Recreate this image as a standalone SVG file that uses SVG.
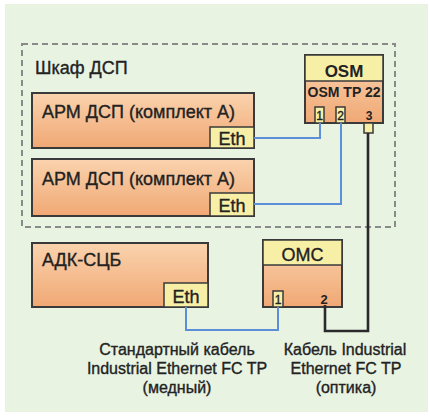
<svg xmlns="http://www.w3.org/2000/svg" width="430" height="420" viewBox="0 0 430 420">
<defs>
<linearGradient id="og" x1="0" y1="0" x2="0" y2="1">
<stop offset="0" stop-color="#fad3ae"/>
<stop offset="1" stop-color="#f0a874"/>
</linearGradient>
<style>
.box{fill:url(#og);stroke:#3a3a3a;stroke-width:2}
.y{fill:#f7efa6;stroke:#3a3a3a;stroke-width:1.5}
.t{font-family:"Liberation Sans",Arial,sans-serif;fill:#222;stroke:#222;stroke-width:0.35}
.b{font-weight:bold;stroke-width:0}
.blue{fill:none;stroke:#5d8fd8;stroke-width:2}
.blk{fill:none;stroke:#2a2a2a;stroke-width:2.6}
</style>
</defs>
<rect x="5" y="4" width="423" height="408" fill="#e8f3e2"/>
<g id="cabinet">
<rect x="22" y="44" width="373" height="183" fill="none" stroke="#8a8a8a" stroke-width="2" stroke-dasharray="6,4"/>
<text class="t" x="35" y="74" font-size="18">Шкаф ДСП</text>
</g>
<g id="arm1">
<rect class="box" x="32" y="93" width="222" height="55"/>
<text class="t" x="42" y="118" font-size="18">АРМ ДСП (комплект А)</text>
<rect class="y" x="210" y="127" width="44" height="21"/>
<text class="t" x="232" y="145" font-size="18" text-anchor="middle">Eth</text>
</g>
<g id="arm2">
<rect class="box" x="32" y="159" width="222" height="57"/>
<text class="t" x="42" y="185" font-size="18">АРМ ДСП (комплект А)</text>
<rect class="y" x="210" y="193" width="44" height="23"/>
<text class="t" x="232" y="212" font-size="18" text-anchor="middle">Eth</text>
</g>
<g id="osm">
<rect class="box" x="305" y="55" width="78" height="68"/>
<rect class="y" x="305" y="55" width="78" height="26" stroke-width="2"/>
<text class="t b" x="344" y="77" font-size="17" text-anchor="middle">OSM</text>
<text class="t b" x="344" y="97" font-size="14" text-anchor="middle" textLength="73" lengthAdjust="spacingAndGlyphs">OSM TP 22</text>
<rect class="y" x="315" y="107" width="9" height="16" stroke-width="1"/>
<text class="t" x="319.5" y="120" font-size="12" text-anchor="middle">1</text>
<rect class="y" x="336" y="107" width="9" height="16" stroke-width="1"/>
<text class="t" x="340.5" y="120" font-size="12" text-anchor="middle">2</text>
<text class="t b" x="369" y="120" font-size="12" text-anchor="middle">3</text>
<rect class="y" x="364" y="123" width="9" height="10" stroke-width="1.2"/>
</g>
<g id="adk">
<rect class="box" x="32" y="243" width="176" height="64"/>
<text class="t" x="42" y="266" font-size="18">АДК-СЦБ</text>
<rect class="y" x="164" y="283" width="44" height="24"/>
<text class="t" x="186" y="303" font-size="18" text-anchor="middle">Eth</text>
</g>
<g id="omc">
<rect class="box" x="263" y="240" width="79" height="67"/>
<rect class="y" x="263" y="240" width="79" height="25" stroke-width="2"/>
<text class="t" x="302.5" y="261" font-size="18" text-anchor="middle">OMC</text>
<rect class="y" x="273" y="291" width="10" height="16" stroke-width="1"/>
<text class="t" x="278" y="304" font-size="12" text-anchor="middle">1</text>
<text class="t b" x="324" y="304" font-size="13" text-anchor="middle">2</text>
</g>
<g id="connectors">
<path class="blue" d="M254 138 H320 V123"/>
<path class="blue" d="M254 204 H341 V123"/>
<path class="blue" d="M186 307 V330 H278 V307"/>
<path class="blk" d="M368 133 V331 H325 V305"/>
</g>
<g id="labels">
<text class="t" x="177" y="355" font-size="16" text-anchor="middle">Стандартный кабель</text>
<text class="t" x="177" y="374" font-size="16" text-anchor="middle">Industrial Ethernet FC TP</text>
<text class="t" x="177" y="393" font-size="16" text-anchor="middle">(медный)</text>
<text class="t" x="345" y="355" font-size="16" text-anchor="middle">Кабель Industrial</text>
<text class="t" x="346" y="374" font-size="16" text-anchor="middle">Ethernet FC TP</text>
<text class="t" x="346" y="393" font-size="16" text-anchor="middle">(оптика)</text>
</g>
</svg>
